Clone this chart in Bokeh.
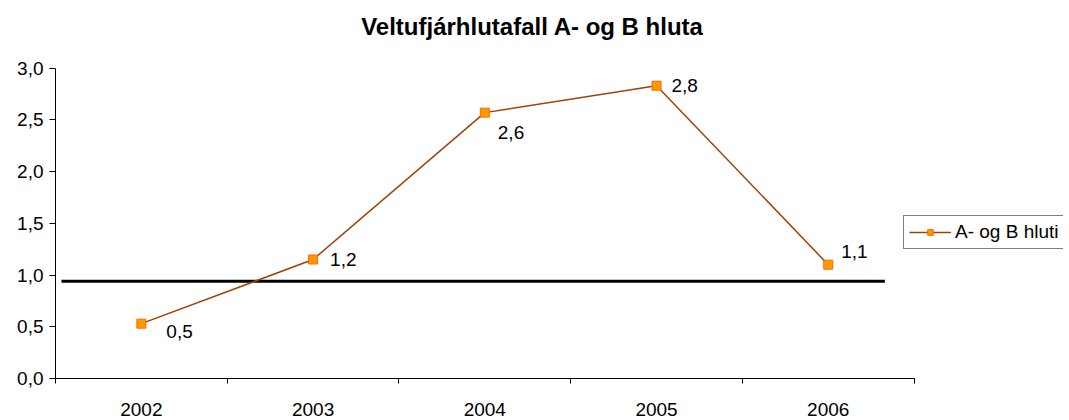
from bokeh.plotting import figure
from bokeh.models import (Range1d, LinearAxis, FixedTicker, Label, Legend, LegendItem,
                          ColumnDataSource, CustomJSTickFormatter)
from bokeh.embed import file_html
from bokeh.resources import INLINE

years = ["2002", "2003", "2004", "2005", "2006"]
values = [0.53, 1.15, 2.57, 2.83, 1.10]
value_labels = ["0,5", "1,2", "2,6", "2,8", "1,1"]
series_name = "A- og B hluti"
reference_value = 0.94
y_ticks = [0.0, 0.5, 1.0, 1.5, 2.0, 2.5, 3.0]
title_text = "Veltufjárhlutafall A- og B hluta"

FONT = "Liberation Sans"
FS = "19px"
LINE_COLOR = "#A0400A"
FILL = "#FF9900"
EDGE = "#FF6600"

n = len(years)
xs = [i + 0.5 for i in range(n)]
y_top = max(y_ticks)

# frame spans the whole height; axis lines are bounded to the data area
p = figure(width=1065, height=418, output_backend="svg", toolbar_location=None,
           x_range=Range1d(0, 5.87), y_range=Range1d(0, y_top * 380 / 312),
           x_axis_type=None, y_axis_type=None,
           min_border_left=55, min_border_right=2, min_border_top=0, min_border_bottom=38)
p.title = None
p.outline_line_color = None
p.grid.visible = False
p.background_fill_color = "white"
p.border_fill_color = "white"

# y axis
yax = LinearAxis(ticker=FixedTicker(ticks=y_ticks, minor_ticks=[]), bounds=(0, y_top),
                 formatter=CustomJSTickFormatter(code="return tick.toFixed(1).replace('.', ',');"))
yax.major_label_text_font = FONT
yax.major_label_text_font_size = FS
yax.major_label_text_color = "black"
yax.major_tick_out = 6
yax.major_tick_in = 0
yax.axis_line_color = "black"
yax.major_tick_line_color = "black"
yax.major_label_standoff = 6
p.add_layout(yax, "left")

# x axis (labels at centers, ticks at category boundaries)
xax = LinearAxis(ticker=FixedTicker(ticks=xs, minor_ticks=list(range(n + 1))),
                 bounds=(0, n))
xax.major_label_overrides = {x: y for x, y in zip(xs, years)}
xax.major_label_text_font = FONT
xax.major_label_text_font_size = FS
xax.major_label_text_color = "black"
xax.major_tick_out = 0
xax.major_tick_in = 0
xax.minor_tick_out = 5
xax.minor_tick_in = 0
xax.minor_tick_line_color = "black"
xax.axis_line_color = "black"
xax.major_label_standoff = 19
p.add_layout(xax, "below")

# reference line
p.segment(x0=[0.035], x1=[4.83], y0=[reference_value], y1=[reference_value],
          line_color="black", line_width=3)

src = ColumnDataSource(dict(x=xs, y=values, lab=value_labels))
ln = p.line("x", "y", source=src, line_color=LINE_COLOR, line_width=1.5)
mk = p.scatter("x", "y", source=src, marker="square", size=9,
               fill_color=FILL, line_color=EDGE, line_width=1)

label_offsets = [(25, -8), (17, 0), (13, -20), (15, 0), (13, 13)]
for x, y, t, (dx, dy) in zip(xs, values, value_labels, label_offsets):
    p.add_layout(Label(x=x, y=y, text=t, x_offset=dx, y_offset=dy,
                       text_font=FONT, text_font_size=FS, text_color="black",
                       text_baseline="middle", text_align="left"))

legend = Legend(items=[LegendItem(label=series_name, renderers=[ln, mk])],
                location=(848, 129), orientation="vertical",
                border_line_color="black", border_line_width=1,
                label_text_font=FONT, label_text_font_size="19px",
                label_text_color="black",
                glyph_width=42, glyph_height=14, padding=5, margin=0,
                label_standoff=4, spacing=0, label_height=21,
                background_fill_alpha=1)
p.add_layout(legend, "center")

# title
p.add_layout(Label(x=477, y=352, x_units="screen", y_units="screen",
                   text=title_text, text_font=FONT, text_font_style="bold",
                   text_font_size="24px", text_color="black",
                   text_align="center", text_baseline="middle"))

open("out.html", "w").write(file_html(p, INLINE))
